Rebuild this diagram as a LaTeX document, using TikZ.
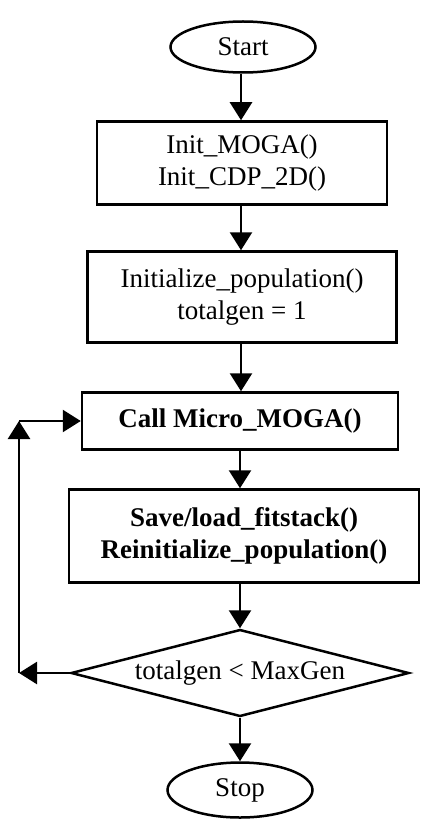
\documentclass[tikz,border=0pt]{standalone}
\usepackage{fontspec}
\setmainfont{Liberation Serif}
\usetikzlibrary{shapes.geometric,arrows.meta}

\begin{document}
\begin{tikzpicture}[x=1pt,y=-1pt,
    font=\fontsize{27}{32}\selectfont,
    box/.style={draw,line width=2.5pt,rectangle,align=center,inner sep=0pt},
    term/.style={draw,line width=2.5pt,ellipse,inner sep=0pt,minimum width=145pt},
    flow/.style={line width=2.5pt,-{Triangle[length=18pt,width=22pt]}}]
      \useasboundingbox (0,0) rectangle (420,821);
      \node[term,minimum height=51pt] (start) at (243,47) {Start};
      \node[box,minimum width=290pt,minimum height=83pt] (init) at (242,163) {Init\_MOGA()\\Init\_CDP\_2D()};
      \node[box,minimum width=309pt,minimum height=91pt] (pop) at (242,297) {Initialize\_population()\\totalgen = 1};
      \node[box,minimum width=316pt,minimum height=57pt,font=\fontsize{27}{32}\selectfont\bfseries] (call) at (240,421) {Call Micro\_MOGA()};
      \node[box,minimum width=350pt,minimum height=93pt,font=\fontsize{27}{32}\selectfont\bfseries] (save) at (244,536) {Save/load\_fitstack()\\Reinitialize\_population()};
      \node[draw,line width=2.5pt,diamond,shape aspect=3.9,inner sep=0pt,minimum width=338pt,minimum height=87pt] (test) at (240,673) {totalgen < MaxGen};
      \node[term,minimum height=55pt] (stop) at (240,790) {Stop};
      \coordinate (low) at (19,673);
      \coordinate (high) at (19,421);
      \draw[flow] (241,0 |- start.south) -- (241,0 |- init.north);
      \draw[flow] (241,0 |- init.south) -- (241,0 |- pop.north);
      \draw[flow] (241,0 |- pop.south) -- (241,0 |- call.north);
      \draw[flow] (240,0 |- call.south) -- (240,0 |- save.north);
      \draw[flow] (240,0 |- save.south) -- (test.north);
      \draw[flow] (test.south) -- (stop.north);
      \draw[flow] (test.west) -- (low);
      \draw[flow] (low) -- (high);
      \draw[flow] (high) -- (call.west);
    \end{tikzpicture}
\end{document}
